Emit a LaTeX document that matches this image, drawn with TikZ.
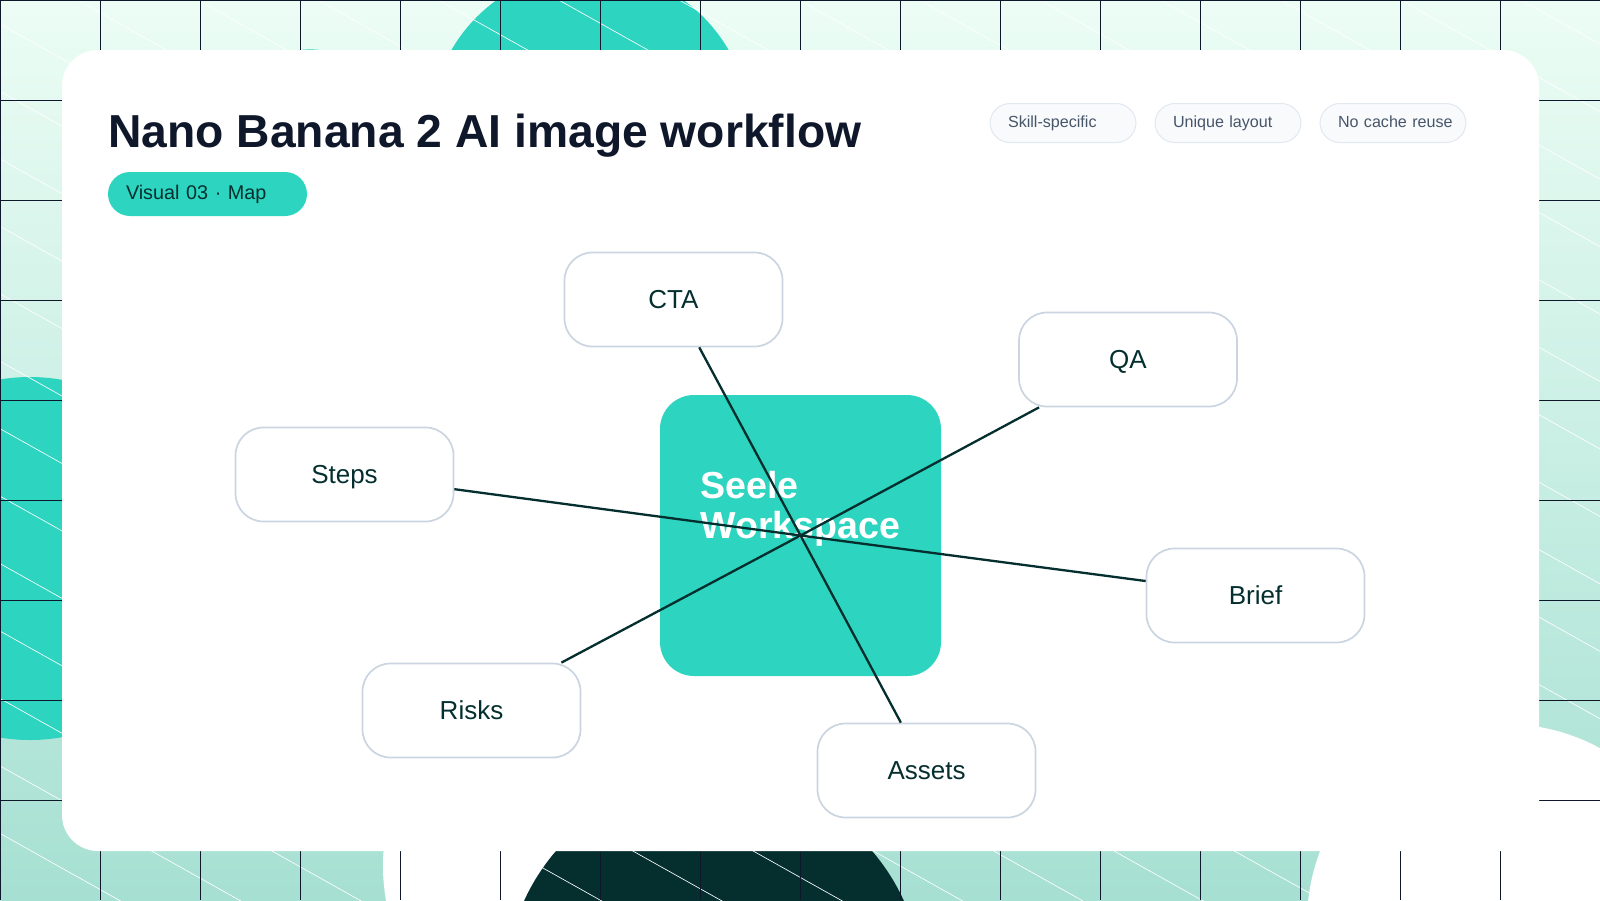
\documentclass[tikz,border=0pt]{standalone}
\usepackage{fontspec}
\usepackage{xcolor}
\setmainfont{Liberation Sans}
\usetikzlibrary{positioning}
\definecolor{washtop}{RGB}{236,253,245}
\definecolor{washbottom}{RGB}{166,224,210}
\definecolor{mapteal}{RGB}{45,212,191}
\definecolor{deepteal}{RGB}{4,47,46}
\definecolor{gridnavy}{RGB}{15,23,42}
\definecolor{nodeline}{RGB}{203,213,225}
\definecolor{chipfill}{RGB}{248,250,252}
\definecolor{chipline}{RGB}{226,232,240}
\definecolor{chiptext}{RGB}{71,85,105}

\begin{document}
\begin{tikzpicture}[x=0.5pt,y=-0.5pt,
    topicbox/.style={draw=nodeline, line width=0.85pt, fill=white, rounded corners=14pt, minimum width=109pt, minimum height=47pt, text height=9.3pt, text depth=0pt, text=deepteal, font=\fontsize{13}{15.6}\selectfont},
    chipbox/.style={draw=chipline, line width=0.5pt, fill=chipfill, rounded corners=10pt, minimum height=19.5pt, text width=55pt, text height=6pt, text depth=1.7pt, inner xsep=9pt, inner ysep=0pt, align=left, text=chiptext, font=\fontsize{8.05}{10}\selectfont},
    link/.style={draw=deepteal, line width=1.15pt}]
    \useasboundingbox (0,0) rectangle (1600,900);

    % Backdrop
    \shade[top color=washtop, bottom color=washbottom] (0,0) rectangle (1600,900);
    \begin{scope}
        \clip (0,0) rectangle (1600,900);
        \fill[mapteal] (590,130) circle (160);
        \fill[mapteal] (30,558.5) circle (181.5);
        \fill[mapteal] (310,130.4) circle (81);
        \fill[white] (580,866) circle (197);
        \fill[white] (1505,922) circle (198);
        \fill[deepteal] (714,987) circle (208.5);

        % Hatch lines
        \foreach \k in {-14,...,13}
            \draw[white, line width=0.32pt] (0,24+67.45*\k) -- (1600,24+67.45*\k+897.1);

        % Grid
        \foreach \x in {0,100,...,1500}
            \draw[gridnavy, line width=0.5pt] (\x+0.5,0) -- (\x+0.5,900);
        \foreach \y in {0,100,...,800}
            \draw[gridnavy, line width=0.5pt] (0,\y+0.5) -- (1600,\y+0.5);
    \end{scope}

    % Card
    \fill[white, rounded corners=18pt] (62,50) rectangle (1539,851);

    % Heading
    \node[anchor=base west, inner sep=0pt, text=gridnavy, font=\fontsize{23.12}{27}\selectfont\bfseries] (title) at (108,147) {Nano Banana 2 AI image workflow};
    \node[fill=mapteal, rounded corners=11pt, minimum height=22pt, text width=81.5pt, inner xsep=9pt, inner ysep=0pt, align=left, text=deepteal, font=\fontsize{9.9}{12}\selectfont] (badge) at (207.5,194) {\raisebox{-0.4pt}{Visual 03 · Map}};

    % Chips
    \node[chipbox] (chipskill) at (1063,123) {Skill-specific};
    \node[chipbox] (chiplayout) at (1228,123) {Unique layout};
    \node[chipbox] (chipcache) at (1393,123) {\mbox{No cache reuse}};

    % Hub and topics
    \node[fill=mapteal, rounded corners=17pt, minimum size=140.5pt, inner sep=0pt] (hub) at (800.5,535.5) {};
    \node[anchor=west, inner sep=0pt, align=left, text=white, font=\fontsize{18.8}{20}\selectfont\bfseries] (hublabel) at (700,508.5) {Seele\\Workspace};

    \node[topicbox] (cta) at (673.5,299.5) {CTA};
    \node[topicbox] (qa) at (1128,359.5) {QA};
    \node[topicbox] (steps) at (344.5,474.5) {Steps};
    \node[topicbox] (risks) at (471.5,710.5) {Risks};
    \node[topicbox] (brief) at (1255.5,595.5) {Brief};
    \node[topicbox] (assets) at (926.5,770.5) {Assets};

    % Links
    \foreach \t in {cta,qa,steps,risks,brief,assets}
        \draw[link] (hub.center) -- (\t);
\end{tikzpicture}
\end{document}
